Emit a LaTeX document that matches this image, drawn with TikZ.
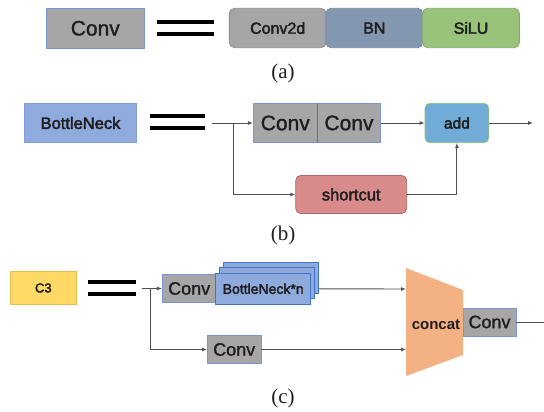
\documentclass[tikz,border=0pt]{standalone}
\usepackage{fontspec}
\setmainfont{Liberation Serif}
\setsansfont{Liberation Sans}
\newfontfamily\semib{Liberation Sans}[FakeBold=2.5]
\newfontfamily\convfont{Liberation Sans}[FakeBold=1.2]
\usetikzlibrary{arrows.meta}
\definecolor{cgray}{HTML}{A6A6A6}
\definecolor{cgrayb}{HTML}{8F8F8F}
\definecolor{cblueb}{HTML}{7A98CF}
\definecolor{cbn}{HTML}{8497B0}
\definecolor{cbnb}{HTML}{7789A2}
\definecolor{csilu}{HTML}{99C27B}
\definecolor{csilub}{HTML}{86AE69}
\definecolor{cbneck}{HTML}{8FAADC}
\definecolor{cbneckb}{HTML}{7F9ED8}
\definecolor{cdark}{HTML}{4472C4}
\definecolor{cadd}{HTML}{71ABD7}
\definecolor{caddb}{HTML}{8CC26E}
\definecolor{cshort}{HTML}{D98B8B}
\definecolor{cshortb}{HTML}{B06A6A}
\definecolor{cc3}{HTML}{FFD966}
\definecolor{cc3b}{HTML}{E3BC4C}
\definecolor{ccat}{HTML}{F4B183}
\definecolor{ctext}{HTML}{1E1E1E}
\definecolor{cline}{HTML}{505050}
\begin{document}
\begin{tikzpicture}[x=1pt,y=-1pt,
  box/.style={draw, line width=0.8pt, inner sep=0pt, text=ctext},
  bigconv/.style={box, fill=cgray, draw=cblueb, font=\convfont\fontsize{21}{24}\selectfont},
  midconv/.style={box, fill=cgray, draw=cblueb, font=\convfont\fontsize{18}{21}\selectfont},
  lbl/.style={box, font=\semib\fontsize{16}{19}\selectfont},
  rbox/.style={lbl, rounded corners=5pt},
  eqline/.style={line width=4pt, black},
  arr/.style={draw=cline, line width=0.9pt, -{Latex[length=5pt,width=4pt]}},
  ln/.style={draw=cline, line width=0.9pt},
  captxt/.style={font=\rmfamily\fontsize{21}{24}\selectfont, text=ctext}
]
\useasboundingbox (0,0) rectangle (544,412);

% ---------- (a) ----------
\node[bigconv, minimum width=97.3pt, minimum height=40pt] (convA) at (95.3,28.3) {Conv};
\draw[eqline] (157,21.7) -- (214,21.7);
\draw[eqline] (157,34.3) -- (214,34.3);
\node[rbox, fill=cgray, draw=cgrayb, minimum width=96.7pt, minimum height=39.4pt] (conv2d) at (277.7,28) {Conv2d};
\node[rbox, fill=cbn, draw=cbnb, minimum width=96.7pt, minimum height=39.4pt] (bnA) at (374.3,28) {BN};
\node[rbox, fill=csilu, draw=csilub, minimum width=96.7pt, minimum height=39.4pt] (silu) at (471,28) {SiLU};
\node[captxt] (capa) at (283,73) {(a)};

% ---------- (b) ----------
\node[lbl, fill=cbneck, draw=cbneckb, font=\semib\fontsize{16.5}{19}\selectfont, minimum width=112.4pt, minimum height=39.4pt] (bneck) at (80.5,123) {BottleNeck};
\draw[eqline] (150,115.7) -- (205,115.7);
\draw[eqline] (150,128.3) -- (205,128.3);
\coordinate (inB) at (212.3,123);
\coordinate (brB) at (233.3,123);
\node[bigconv, minimum width=64pt, minimum height=39.4pt] (convB1) at (285.3,123) {Conv};
\node[bigconv, minimum width=63.4pt, minimum height=39.4pt] (convB2) at (349,123) {Conv};
\draw[cdark, line width=1.2pt] (convB1.north east) -- (convB1.south east);
\node[rbox, fill=cadd, draw=caddb, font=\semib\fontsize{15.5}{18}\selectfont, minimum width=63.7pt, minimum height=39.4pt] (add) at (456.9,123) {add};
\coordinate (outB) at (533,123);
\node[rbox, fill=cshort, draw=cshortb, font=\semib\fontsize{16.5}{19}\selectfont, minimum width=111pt, minimum height=38pt] (short) at (351.2,194.5) {shortcut};
\draw[ln] (inB) -- (brB);
\draw[arr] (brB) -- (convB1.west);
\draw[arr] (brB) |- (short.west);
\draw[arr] (convB2.east) -- (add.west);
\draw[arr] (add.east) -- (outB);
\draw[arr] (short.east) -| (add.south);
\node[captxt] (capb) at (283,235) {(b)};

% ---------- (c) ----------
\node[box, fill=cc3, draw=cc3b, font=\semib\fontsize{13}{15}\selectfont, minimum width=65.3pt, minimum height=32.6pt] (c3) at (43.3,288) {C3};
\draw[line width=3.6pt, black] (88,281.7) -- (136,281.7);
\draw[line width=3.6pt, black] (88,294) -- (136,294);
\coordinate (inC) at (141.7,288.5);
\coordinate (brC) at (150.7,288.5);
\node[midconv, minimum width=53.7pt, minimum height=28.4pt] (c1) at (189.2,288.5) {Conv};
\node[box, fill=cbneck, draw=cdark, minimum width=95pt, minimum height=31pt] (bn3) at (271.2,277.8) {};
\node[box, fill=cbneck, draw=cdark, minimum width=95pt, minimum height=31pt] (bn2) at (267.2,283.3) {};
\node[box, fill=cbneck, draw=cdark, font=\semib\fontsize{14}{16}\selectfont, minimum width=95pt, minimum height=31pt] (bn1) at (263.2,288.8) {BottleNeck*n};
\node[midconv, minimum width=53.7pt, minimum height=28.3pt] (c2) at (234.2,349.5) {Conv};
% concat trapezoid
\fill[ccat] (406,268) -- (463,290) -- (463,355) -- (406,376) -- cycle;
\coordinate (ct1) at (406,289);
\coordinate (ct2) at (406,349.5);
\node[font=\sffamily\bfseries\fontsize{15}{18}\selectfont, text=ctext, inner sep=0pt] (concat) at (436,325) {concat};
\node[midconv, minimum width=53pt, minimum height=28pt] (c3conv) at (489.5,322) {Conv};
\coordinate (outC) at (544,322);
\draw[ln] (inC) -- (brC);
\draw[arr] (brC) -- (c1.west);
\draw[arr] (brC) |- (c2.west);
\draw[arr] (bn3.east |- bn1.east) -- (ct1);
\draw[arr] (c2.east) -- (ct2);
\draw[ln] (c3conv.east) -- (outC);
\node[captxt] (capc) at (283,398) {(c)};
\end{tikzpicture}
\end{document}
